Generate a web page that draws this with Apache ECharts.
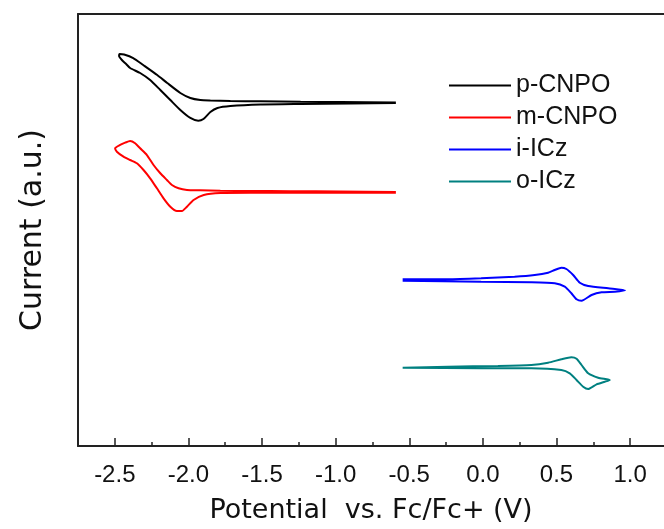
<!DOCTYPE html>
<html>
<head>
<meta charset="utf-8">
<script src="https://cdn.jsdelivr.net/npm/echarts@6/dist/echarts.min.js"></script>
<style>
  html, body { margin: 0; padding: 0; background: #fff; }
  #chart { width: 664px; height: 529px; }
</style>
</head>
<body>
<div id="chart"></div>
<script>
// cyclic voltammograms, potential in V vs Fc/Fc+, current in arbitrary units (curves are offset)
const seriesNames = ['p-CNPO', 'm-CNPO', 'i-ICz', 'o-ICz']
const seriesColors = ['#000000', '#ff0000', '#0000ff', '#008080']

const pPotential = [-0.591, -0.965, -1.238, -1.510, -1.715, -1.851, -1.919, -1.987, -2.055, -2.144, -2.212, -2.307, -2.375, -2.437, -2.467,
  -2.471, -2.452, -2.423, -2.396, -2.328, -2.260, -2.191, -2.123, -2.055, -1.987, -1.933, -1.898, -1.851, -1.803, -1.715, -1.510, -1.238, -0.897, -0.591]
const pCurrent = [79.51, 79.63, 79.68, 79.79, 79.86, 79.98, 80.09, 80.56, 81.71, 84.03, 85.88, 88.19, 89.81, 90.62, 90.74,
  90.28, 89.35, 88.43, 87.50, 86.34, 84.72, 82.41, 80.09, 77.78, 75.93, 75.30, 75.69, 77.31, 78.24, 78.70, 79.05, 79.17, 79.28, 79.40]

const mPotential = [-0.591, -0.965, -1.306, -1.578, -1.783, -1.919, -2.010, -2.067, -2.112, -2.146, -2.191, -2.237, -2.282, -2.328, -2.362, -2.396, -2.430, -2.464, -2.498,
  -2.486, -2.441, -2.396, -2.350, -2.305, -2.260, -2.214, -2.169, -2.123, -2.078, -2.044, -2.010, -1.965, -1.896, -1.783, -1.578, -1.238, -0.897, -0.591]
const mCurrent = [58.80, 58.91, 58.98, 59.03, 59.07, 59.19, 59.26, 59.65, 60.42, 61.57, 63.13, 65.05, 67.36, 68.91, 70.07, 70.60, 70.21, 69.68, 68.91,
  68.13, 66.97, 66.20, 65.44, 63.89, 61.97, 59.65, 57.34, 55.39, 54.40, 54.40, 55.39, 56.94, 58.10, 58.56, 58.63, 58.61, 58.61, 58.63]

const iPotential = [-0.545, -0.238, -0.012, 0.215, 0.352, 0.443, 0.488, 0.533, 0.567, 0.613, 0.658, 0.715, 0.851, 0.965,
  0.896, 0.806, 0.738, 0.670, 0.636, 0.601, 0.556, 0.488, 0.329, -0.012, -0.545]
const iCurrent = [38.59, 38.59, 38.82, 39.19, 39.58, 40.12, 40.74, 41.27, 40.97, 39.58, 37.80, 37.04, 36.50, 36.04,
  35.72, 35.58, 34.95, 33.63, 33.96, 35.35, 36.88, 37.66, 37.89, 38.03, 38.26]

const oPotential = [-0.545, -0.238, 0.102, 0.329, 0.443, 0.533, 0.601, 0.636, 0.670, 0.715, 0.783, 0.862,
  0.828, 0.772, 0.715, 0.681, 0.636, 0.590, 0.533, 0.329, -0.012, -0.545]
const oCurrent = [18.13, 18.36, 18.52, 18.75, 19.28, 20.07, 20.53, 20.21, 18.75, 16.83, 15.81, 15.28,
  14.88, 14.28, 13.19, 13.73, 15.28, 16.83, 17.59, 17.99, 17.99, 18.13]

const majorTicks = [-2.5, -2.0, -1.5, -1.0, -0.5, 0.0, 0.5, 1.0]
const minorTicks = [-2.25, -1.75, -1.25, -0.75, -0.25, 0.25, 0.75]

const curves = [[pPotential, pCurrent], [mPotential, mCurrent], [iPotential, iCurrent], [oPotential, oCurrent]]

const chart = echarts.init(document.getElementById('chart'))

const frameLine = { show: true, onZero: false, lineStyle: { color: '#222', width: 2 } }

const option = {
  animation: false,
  backgroundColor: '#fff',
  color: seriesColors,
  grid: {
    left: 78,
    right: 0,
    top: 14,
    bottom: 83
  },
  legend: {
    orient: 'vertical',
    left: 448,
    top: 73,
    padding: 0,
    itemWidth: 62,
    itemHeight: 14,
    itemGap: 7,
    itemStyle: { opacity: 0 },
    lineStyle: { width: 2 },
    textStyle: {
      fontFamily: 'Liberation Sans',
      fontSize: 25,
      color: '#111'
    },
    data: seriesNames
  },
  xAxis: [{
    type: 'value',
    min: -2.75,
    max: 1.23,
    name: 'Potential  vs. Fc/Fc+ (V)',
    nameLocation: 'middle',
    nameGap: 51,
    nameTextStyle: {
      fontFamily: 'DejaVu Sans',
      fontSize: 27,
      color: '#111'
    },
    axisLine: frameLine,
    splitLine: { show: false },
    axisTick: {
      show: true,
      inside: true,
      length: 8,
      customValues: majorTicks,
      lineStyle: { color: '#222', width: 1.5 }
    },
    axisLabel: {
      margin: 17,
      customValues: majorTicks,
      fontFamily: 'Liberation Sans',
      fontSize: 24,
      color: '#111',
      formatter: v => v.toFixed(1)
    }
  }, {
    type: 'value',
    min: -2.75,
    max: 1.23,
    position: 'bottom',
    axisLine: { show: false },
    splitLine: { show: false },
    axisLabel: { show: false },
    axisTick: {
      show: true,
      inside: true,
      length: 4,
      customValues: minorTicks,
      lineStyle: { color: '#222', width: 1.5 }
    }
  }, {
    type: 'value',
    min: -2.75,
    max: 1.23,
    position: 'top',
    axisLine: frameLine,
    splitLine: { show: false },
    axisLabel: { show: false },
    axisTick: { show: false }
  }],
  yAxis: {
    type: 'value',
    min: 0,
    max: 100,
    name: 'Current (a.u.)',
    nameLocation: 'middle',
    nameGap: 30,
    nameTextStyle: {
      fontFamily: 'DejaVu Sans',
      fontSize: 30,
      color: '#111'
    },
    axisLine: frameLine,
    axisTick: { show: false },
    axisLabel: { show: false },
    splitLine: { show: false }
  },
  series: curves.map((c, i) => ({
    name: seriesNames[i],
    type: 'line',
    showSymbol: false,
    symbol: 'none',
    smooth: 0.2,
    lineStyle: { width: 2, color: seriesColors[i] },
    data: c[0].map((x, k) => [x, c[1][k]])
  }))
}

chart.setOption(option)
</script>
</body>
</html>
